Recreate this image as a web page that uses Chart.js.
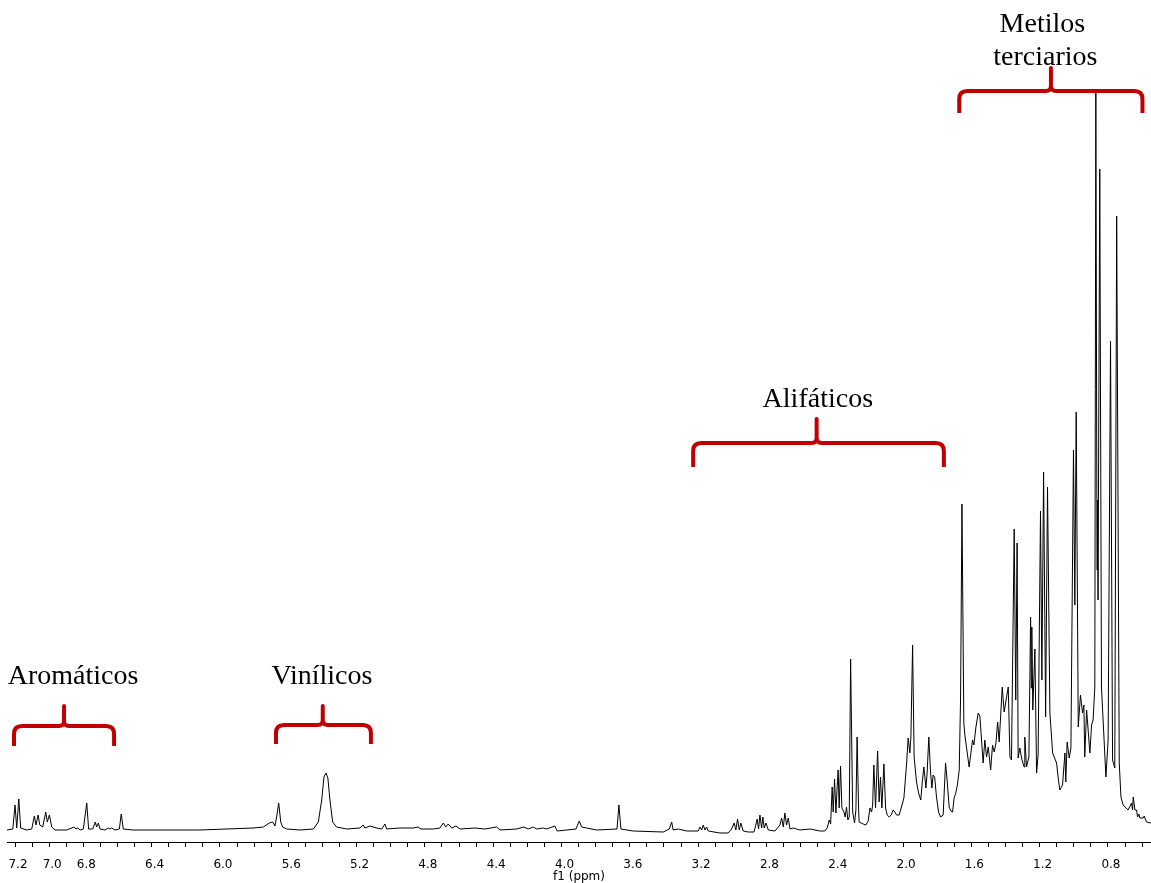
<!DOCTYPE html>
<html>
<head>
<meta charset="utf-8">
<script src="https://cdn.jsdelivr.net/npm/chart.js@4.4.1/dist/chart.umd.min.js"></script>
<style>
  html, body { margin: 0; padding: 0; background: #fff; overflow: hidden; }
  canvas { display: block; }
</style>
</head>
<body>
<canvas id="c" width="1151" height="883"></canvas>
<script>
// ---- Spectrum data (chemical shift in ppm, intensity in arbitrary units) ----
const AROMATIC_PPM = [7.247,7.213,7.200,7.190,7.178,7.167,7.131,7.102,7.087,7.077,7.065,7.055,7.038,7.020,7.011,6.999,6.985,6.966,6.897,6.855,6.843,6.833,6.819,6.800,6.780,6.769,6.745,6.730,6.722,6.712,6.702,6.673,6.654,6.644,6.634,6.615,6.589,6.578,6.566,6.509];
const AROMATIC_INT = [0,1,25,2,31,2,0,1,14,5,15,5,3,18,8,15,3,0,0,3,1,2,0,1,27,1,1,8,3,7,1,0,2,1,2,0,1,16,1,0];

const VINYL_PPM = [6.117,5.805,5.746,5.711,5.691,5.678,5.668,5.656,5.644,5.633,5.609,5.531,5.453,5.424,5.404,5.391,5.379,5.368,5.356,5.340,5.317,5.258,5.180,5.161,5.151,5.122,5.082,5.053,5.034,5.024];
const VINYL_INT = [0,2,3,7,8,4,13,27,8,3,1,0,1,8,30,53,57,52,30,8,3,1,2,5,2,4,2,1,6,1];

const MID_PPM = [4.946,4.868,4.841,4.823,4.751,4.712,4.692,4.678,4.663,4.643,4.618,4.594,4.507,4.448,4.380,4.360,4.263,4.220,4.195,4.165,4.146,4.107,4.087,4.039,4.025,3.970,3.915,3.896,3.882,3.853,3.794,3.675,3.664,3.652,3.580,3.404,3.369,3.355,3.346,3.316,3.267,3.199,3.189,3.179,3.170,3.160,3.150,3.141,3.072,3.024,3.004,2.989,2.979,2.969,2.959,2.950,2.936,2.907,2.873,2.862,2.854,2.846,2.838,2.828,2.821,2.813,2.803,2.789,2.750,2.721,2.711,2.701,2.692,2.682,2.672,2.662,2.643,2.624,2.604,2.545,2.487,2.458];
const MID_INT = [2,2,3,1,1,2,7,3,6,2,4,1,2,1,3,0,1,3,1,3,1,2,1,4,-1,0,1,9,3,2,0,1,25,1,-1,-2,1,8,0,1,-1,-1,3,0,5,0,3,-1,-3,-3,1,7,0,11,0,7,-1,-2,-2,5,11,1,15,2,13,2,7,0,-1,5,12,3,17,5,12,1,2,1,0,1,-1,-1];

const ALIPHATIC_PPM = [2.444,2.432,2.424,2.415,2.409,2.401,2.393,2.386,2.380,2.374,2.366,2.358,2.346,2.339,2.331,2.323,2.315,2.307,2.295,2.284,2.276,2.269,2.260,2.257,2.233,2.218,2.204,2.194,2.184,2.178,2.171,2.161,2.149,2.140,2.132,2.124,2.112,2.102,2.093,2.081,2.069,2.058,2.048,2.038,2.023,2.009,1.995,1.979,1.970,1.960,1.954,1.944,1.935,1.921,1.909,1.896,1.888,1.878,1.866,1.859,1.849,1.839,1.831,1.824,1.815,1.804,1.792,1.780,1.765,1.751,1.742,1.730,1.720,1.710,1.701,1.691,1.681,1.671,1.663];
const ALIPHATIC_INT = [2,10,6,43,18,51,17,42,60,22,64,22,18,13,23,10,13,171,18,7,20,93,20,8,6,5,9,22,18,25,65,22,79,28,53,22,66,22,15,13,15,20,18,15,15,23,32,67,92,77,93,185,73,48,37,30,47,63,42,57,93,58,42,55,53,33,18,13,15,67,50,23,19,18,32,37,46,60,133];

const METHYL_PPM = [1.655,1.644,1.638,1.613,1.593,1.585,1.574,1.560,1.550,1.531,1.521,1.511,1.501,1.487,1.476,1.466,1.456,1.446,1.437,1.419,1.408,1.384,1.374,1.365,1.349,1.340,1.332,1.326,1.316,1.306,1.291,1.287,1.277,1.263,1.253,1.249,1.246,1.240,1.228,1.218,1.209,1.195,1.187,1.177,1.165,1.154,1.140,1.124,1.101,1.092,1.082,1.066,1.052,1.047,1.039,1.027,1.017,1.002,0.994,0.986,0.974,0.961,0.949,0.941,0.936,0.925,0.916,0.906,0.896,0.887,0.877,0.871,0.864,0.861,0.858,0.848,0.838,0.812,0.799,0.785,0.773,0.760,0.749,0.734,0.724,0.711,0.682,0.662,0.656,0.652,0.642,0.632,0.627,0.619,0.613,0.594,0.588,0.574,0.548];
const METHYL_INT = [326,107,95,63,90,85,102,117,114,67,90,73,83,60,85,78,87,108,88,143,118,143,73,70,301,130,287,72,82,72,63,93,63,73,213,142,203,120,181,57,75,319,150,358,113,343,117,77,67,53,40,45,77,48,88,72,82,380,225,418,103,135,117,125,73,120,100,77,105,110,143,738,260,330,230,661,143,53,90,489,70,62,614,67,33,25,20,27,20,33,20,20,13,16,12,12,14,8,7];

// ---- Axis ----
const TICK_LABELS = [7.2,7.0,6.8,6.4,6.0,5.6,5.2,4.8,4.4,4.0,3.6,3.2,2.8,2.4,2.0,1.6,1.2,0.8];
const AXIS_TITLE = 'f1 (ppm)';

// ---- Region annotations (text) ----
const REGION_NAMES = ['Aromáticos','Vinílicos','Alifáticos','Metilos','terciarios'];

// ---- build ----
const segments = [
  [AROMATIC_PPM, AROMATIC_INT],
  [VINYL_PPM, VINYL_INT],
  [MID_PPM, MID_INT],
  [ALIPHATIC_PPM, ALIPHATIC_INT],
  [METHYL_PPM, METHYL_INT]
];
const points = [];
segments.forEach(([p, v]) => {
  const n = Math.min(p.length, v.length);
  for (let i = 0; i < n; i++) points.push({ x: p[i], y: v[i] });
});

// bracket geometry in data coordinates (ppm / intensity)
const BRACKETS = [
  { left: 7.206, right: 6.620, center: 6.913, bottom: 84,  bar: 104, tip: 124 },
  { left: 5.672, right: 5.116, center: 5.398, bottom: 86,  bar: 105, tip: 124 },
  { left: 3.229, right: 1.761, center: 2.506, bottom: 363, bar: 387, tip: 411 },
  { left: 1.671, right: 0.598, center: 1.134, bottom: 717, bar: 739, tip: 762 }
];
const TEXT_POS = [
  { x: 6.860, y: 146 },
  { x: 5.403, y: 146 },
  { x: 2.499, y: 423 },
  { x: 1.184, y: 798 },
  { x: 1.167, y: 765 }
];

const annotPlugin = {
  id: 'annot',
  afterDatasetsDraw(chart) {
    const { ctx } = chart;
    const xs = chart.scales.x, ys = chart.scales.y;
    ctx.save();
    ctx.strokeStyle = '#c00000';
    ctx.lineWidth = 4;
    ctx.lineJoin = 'round';
    ctx.lineCap = 'butt';
    BRACKETS.forEach(b => {
      const xl = xs.getPixelForValue(b.left), xr = xs.getPixelForValue(b.right), xc = xs.getPixelForValue(b.center);
      const yb = ys.getPixelForValue(b.bottom), yh = ys.getPixelForValue(b.bar), yt = ys.getPixelForValue(b.tip);
      const r = 8, rt = 5;
      ctx.beginPath();
      ctx.moveTo(xl, yb);
      ctx.lineTo(xl, yh + r);
      ctx.quadraticCurveTo(xl, yh, xl + r, yh);
      ctx.lineTo(xc - rt, yh);
      ctx.quadraticCurveTo(xc, yh, xc, yh - rt);
      ctx.lineTo(xc, yt);
      ctx.lineTo(xc, yh - rt);
      ctx.quadraticCurveTo(xc, yh, xc + rt, yh);
      ctx.lineTo(xr - r, yh);
      ctx.quadraticCurveTo(xr, yh, xr, yh + r);
      ctx.lineTo(xr, yb);
      ctx.stroke();
    });
    ctx.fillStyle = '#000';
    ctx.font = '28px "Liberation Serif", "Times New Roman", serif';
    ctx.textAlign = 'center';
    ctx.textBaseline = 'alphabetic';
    REGION_NAMES.forEach((t, i) => {
      const p = TEXT_POS[i];
      ctx.fillText(t, xs.getPixelForValue(p.x), ys.getPixelForValue(p.y));
    });
    ctx.restore();
  }
};

new Chart(document.getElementById('c'), {
  type: 'line',
  data: {
    datasets: [{
      data: points,
      borderColor: '#000',
      borderWidth: 1,
      pointRadius: 0,
      tension: 0,
      fill: false
    }]
  },
  options: {
    responsive: false,
    animation: false,
    parsing: false,
    normalized: true,
    layout: { padding: { left: 7, right: 0, top: 0, bottom: 0 } },
    plugins: { legend: { display: false }, tooltip: { enabled: false } },
    scales: {
      x: {
        type: 'linear',
        reverse: true,
        min: 0.548,
        max: 7.247,
        afterBuildTicks: (scale) => {
          const t = [];
          for (let k = 6; k <= 72; k++) t.push({ value: k / 10 });
          scale.ticks = t;
        },
        ticks: {
          autoSkip: false,
          maxRotation: 0,
          minRotation: 0,
          padding: 11,
          labelOffset: 3,
          color: '#000',
          font: { family: '"DejaVu Sans", Verdana, sans-serif', size: 12 },
          callback: (v) => {
            const r = Math.round(v * 10) / 10;
            return TICK_LABELS.some(l => Math.abs(l - r) < 1e-6) ? r.toFixed(1) : '';
          }
        },
        grid: { drawOnChartArea: false, drawTicks: true, tickLength: 5, color: '#000', lineWidth: 1 },
        border: { display: true, color: '#000', width: 1 },
        title: {
          display: true,
          text: AXIS_TITLE,
          color: '#000',
          font: { family: '"DejaVu Sans", Verdana, sans-serif', size: 12, lineHeight: 1 },
          padding: { top: -12.4, bottom: 0 }
        }
      },
      y: { display: false, min: -12, max: 830 }
    }
  },
  plugins: [annotPlugin]
});
</script>
</body>
</html>
